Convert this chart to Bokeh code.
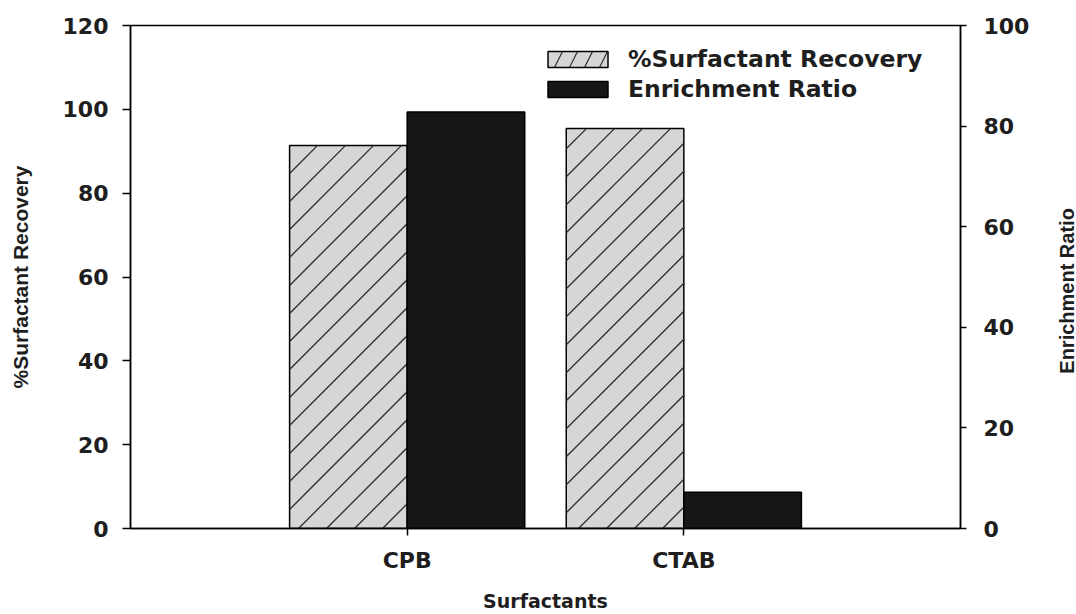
import math
from bokeh.plotting import figure
from bokeh.layouts import row
from bokeh.models import (Range1d, LinearAxis, FixedTicker, Legend, LegendItem,
                          ColumnDataSource, Label)
from bokeh.embed import file_html
from bokeh.resources import INLINE

# ---- data ----
categories = ["CPB", "CTAB"]
recovery = [91.4, 95.4]          # %Surfactant Recovery (left axis)
enrichment = [82.8, 7.2]         # Enrichment Ratio (right axis)
left_ticks = [0, 20, 40, 60, 80, 100, 120]
right_ticks = [0, 20, 40, 60, 80, 100]

# ---- layout constants ----
W, H = 1046, 614          # main chart
TITLE_W = 30              # strip holding the right-axis title
B_LEFT, B_RIGHT, B_TOP, B_BOTTOM = 130, 86, 25, 86
FRAME_W = W - B_LEFT - B_RIGHT
FRAME_H = H - B_TOP - B_BOTTOM
X_END = len(categories) + 1
Y_END = left_ticks[-1]
HATCH_SPACING = 28  # px between "/" hatch lines

cat_pos = [i + 1 for i in range(len(categories))]
bar_w = 0.425
rec_x = [c - bar_w / 2 for c in cat_pos]
er_x = [c + bar_w / 2 for c in cat_pos]
rec_src = ColumnDataSource(dict(x=rec_x, top=recovery))
er_src = ColumnDataSource(dict(x=er_x, top=enrichment))

# 45-degree hatch lines clipped to the recovery bars (computed from the bar data)
sx = FRAME_W / X_END
sy = FRAME_H / Y_END
hx0, hy0, hx1, hy1 = [], [], [], []
for xc, top in zip(rec_x, recovery):
    X0, X1, Y1 = (xc - bar_w / 2) * sx, (xc + bar_w / 2) * sx, top * sy
    k0 = math.ceil((X0 - Y1) / HATCH_SPACING)
    k1 = math.floor(X1 / HATCH_SPACING)
    for k in range(k0, k1 + 1):
        c = k * HATCH_SPACING
        ylo = max(0.0, X0 - c)
        yhi = min(Y1, X1 - c)
        if yhi - ylo > 0.5:
            hx0.append((c + ylo) / sx); hy0.append(ylo / sy)
            hx1.append((c + yhi) / sx); hy1.append(yhi / sy)
hatch_src = ColumnDataSource(dict(x0=hx0, y0=hy0, x1=hx1, y1=hy1))

FONT = "DejaVu Sans"
TXT = "#1e1e1e"

p = figure(width=W, height=H, output_backend="svg", toolbar_location=None,
           x_range=Range1d(0, X_END), y_range=Range1d(0, Y_END),
           min_border_left=B_LEFT, min_border_right=B_RIGHT,
           min_border_top=B_TOP, min_border_bottom=B_BOTTOM)
p.extra_y_ranges = {"er": Range1d(0, right_ticks[-1])}

p.xgrid.visible = False
p.ygrid.visible = False
p.outline_line_color = "black"
p.outline_line_width = 1.5
p.background_fill_color = "white"
p.border_fill_color = "white"

r1 = p.vbar(x="x", top="top", width=bar_w, bottom=0, source=rec_src,
            fill_color="#d6d6d6", line_color="black", line_width=1.5)
p.segment(x0="x0", y0="y0", x1="x1", y1="y1", source=hatch_src,
          line_color="#2a2a2a", line_width=1.3)
r2 = p.vbar(x="x", top="top", width=bar_w, bottom=0, source=er_src, y_range_name="er",
            fill_color="#161616", line_color="black", line_width=1.5)
# legend swatch renderer for the hatched series (zero-height, sits on the baseline)
r1_leg = p.vbar(x="x", top=0, width=bar_w, bottom=0, source=rec_src,
                fill_color="#d6d6d6", line_color="black", line_width=1.5,
                hatch_pattern="/", hatch_color="#2a2a2a", hatch_weight=1.2, hatch_scale=30)

# x axis
xa = p.xaxis[0]
xa.ticker = FixedTicker(ticks=cat_pos)
xa.major_label_overrides = {c: n for c, n in zip(cat_pos, categories)}
xa.minor_tick_line_color = None
xa.major_tick_in = 0
xa.major_tick_out = 7
xa.major_label_standoff = 12
xa.axis_label = "Surfactants"
xa.axis_label_standoff = 14

# left axis
ya = p.yaxis[0]
ya.ticker = FixedTicker(ticks=left_ticks)
ya.minor_tick_line_color = None
ya.major_tick_in = 0
ya.major_tick_out = 8
ya.major_label_standoff = 14
ya.axis_label = "%Surfactant Recovery"
ya.axis_label_standoff = 28

# right axis
ra = LinearAxis(y_range_name="er", ticker=FixedTicker(ticks=right_ticks))
ra.minor_tick_line_color = None
ra.major_tick_in = 0
ra.major_tick_out = 6
ra.major_label_standoff = 17
p.add_layout(ra, "right")

for ax in (xa, ya, ra):
    ax.axis_line_width = 1.5
    ax.axis_line_color = "black"
    ax.major_tick_line_width = 1.5
    ax.major_tick_line_color = "black"
    ax.major_label_text_font = FONT
    ax.major_label_text_font_style = "bold"
    ax.major_label_text_font_size = "22px"
    ax.major_label_text_color = TXT
    ax.axis_label_text_font_style = "bold"
    ax.axis_label_text_color = TXT

xa.axis_label_text_font = FONT
xa.axis_label_text_font_size = "19px"
ya.axis_label_text_font = "Liberation Sans"
ya.axis_label_text_font_size = "21px"

legend = Legend(items=[LegendItem(label="%Surfactant Recovery", renderers=[r1_leg]),
                       LegendItem(label="Enrichment Ratio", renderers=[r2])],
                location=(410, 425))
legend.padding = 0
legend.margin = 0
legend.spacing = 2
legend.glyph_width = 75
legend.glyph_height = 20
legend.label_standoff = 13
legend.label_text_font = FONT
legend.label_text_font_style = "bold"
legend.label_text_font_size = "23.5px"
legend.label_text_color = TXT
legend.border_line_alpha = 0
legend.background_fill_alpha = 0
p.add_layout(legend)

# narrow strip to the right holding the right-axis title (reads bottom-to-top)
t = figure(width=TITLE_W, height=H, output_backend="svg", toolbar_location=None,
           x_range=Range1d(0, TITLE_W), y_range=Range1d(0, H),
           x_axis_type=None, y_axis_type=None, min_border=0)
t.xgrid.visible = False
t.ygrid.visible = False
t.outline_line_color = None
t.border_fill_color = "white"
t.background_fill_color = "white"
t.add_layout(Label(x=20, y=H - 324, text="Enrichment Ratio", angle=math.pi / 2,
                   text_align="center", text_baseline="middle",
                   text_font="Liberation Sans", text_font_style="bold",
                   text_font_size="20px", text_color=TXT))

layout = row(p, t, spacing=0)
open("out.html", "w").write(file_html(layout, INLINE))
